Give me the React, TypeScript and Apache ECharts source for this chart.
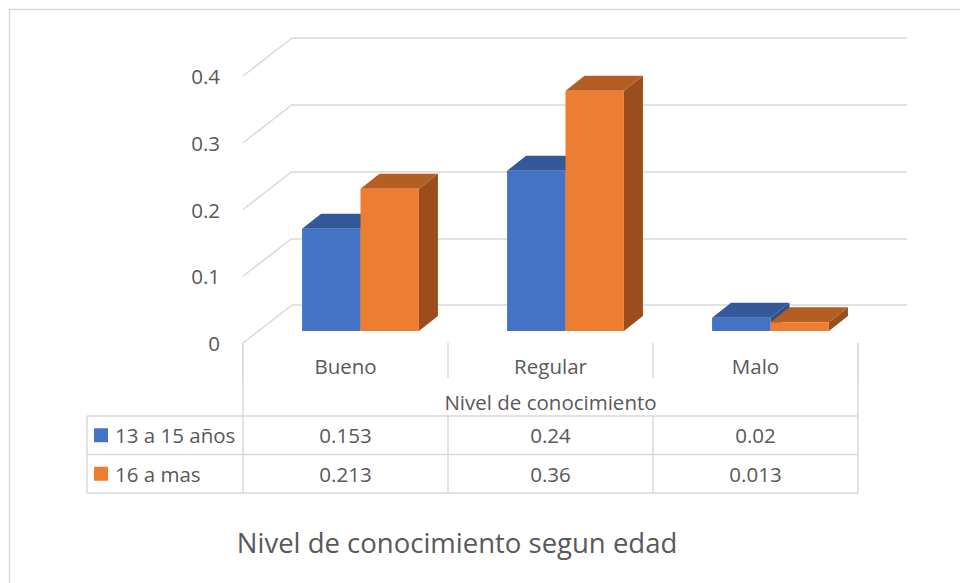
import React, { useEffect, useRef } from "react";
import * as echarts from "echarts";

const categories = ["Bueno", "Regular", "Malo"];
const seriesNames = ["13 a 15 años", "16 a mas"];
const serie1315 = [0.153, 0.24, 0.02];
const serie16 = [0.213, 0.36, 0.013];
const yTicks = [0, 0.1, 0.2, 0.3, 0.4];
const axisTitle = "Nivel de conocimiento";
const chartTitle = "Nivel de conocimiento segun edad";

const FONT = "'Open Sans', sans-serif";
const FS = 20.5;
const TXT = "#595959";
const GRIDC = "#D9D9D9";
const FRONT = ["#4472C4", "#ED7D31"];
const TOP = ["#34599B", "#B45E23"];
const SIDE = ["#2D4F8A", "#9B4E1C"];

// layout
const CAT_W = 205;
const PLOT_W = CAT_W * categories.length;
const FRONT_LEFT = 243;
const FRONT_TOP = 76;
const PLOT_H = 267;
const BACK_LEFT = 292;
const BACK_TOP = 38;
const BAR_LEFT = 258;
const BAR_TOP = 64;
const DEPTH_X = 19;
const DEPTH_Y = 15;
const WALL_DX = 49;
const WALL_DY = 38;

const TABLE_LEFT = 87;
const TABLE_TOP = 416;
const ROW_H = 38.5;

export default function App() {
  const ref = useRef<HTMLDivElement>(null);
  useEffect(() => {
    if (!ref.current) return;
    const chart = echarts.init(ref.current, undefined, { renderer: "svg" });
    const allSeries = [serie1315, serie16];

    const barSeries = allSeries.map((vals, s) => ({
      type: "custom",
      name: seriesNames[s],
      xAxisIndex: 2,
      yAxisIndex: 2,
      data: vals.map((v, i) => [i, v]),
      renderItem: (params: any, api: any) => {
        const i = api.value(0);
        const v = api.value(1);
        const c = api.coord([i, v]);
        const base = api.coord([i, 0]);
        const band = api.size([1, 0])[0];
        const bw = band * 0.285;
        const x0 = c[0] - bw + s * bw;
        const yt = c[1];
        const yb = base[1];
        return {
          type: "group",
          children: [
            {
              type: "polygon",
              shape: {
                points: [
                  [x0 + bw, yt],
                  [x0 + bw, yb],
                  [x0 + bw + DEPTH_X, yb - DEPTH_Y],
                  [x0 + bw + DEPTH_X, yt - DEPTH_Y],
                ],
              },
              style: { fill: SIDE[s] },
            },
            {
              type: "polygon",
              shape: {
                points: [
                  [x0, yt],
                  [x0 + bw, yt],
                  [x0 + bw + DEPTH_X, yt - DEPTH_Y],
                  [x0 + DEPTH_X, yt - DEPTH_Y],
                ],
              },
              style: { fill: TOP[s] },
            },
            {
              type: "rect",
              shape: { x: x0, y: yt, width: bw, height: yb - yt },
              style: { fill: FRONT[s] },
            },
          ],
        };
      },
    }));

    const graphics: any[] = [];
    graphics.push({
      type: "rect",
      shape: { x: 9.5, y: 9.5, width: 1000, height: 700 },
      style: { fill: "none", stroke: GRIDC, lineWidth: 1.5 },
      silent: true,
    });
    const tableRight = FRONT_LEFT + PLOT_W;
    const line = (x1: number, y1: number, x2: number, y2: number) => ({
      type: "line",
      shape: { x1, y1, x2, y2 },
      style: { stroke: GRIDC, lineWidth: 1.5 },
      silent: true,
    });
    for (let r = 0; r <= seriesNames.length; r++) {
      const y = TABLE_TOP + r * ROW_H;
      graphics.push(line(TABLE_LEFT, y, tableRight, y));
    }
    const tableBottom = TABLE_TOP + seriesNames.length * ROW_H;
    graphics.push(line(TABLE_LEFT, TABLE_TOP, TABLE_LEFT, tableBottom));
    graphics.push(line(FRONT_LEFT, FRONT_TOP + PLOT_H, FRONT_LEFT, tableBottom));
    graphics.push(line(tableRight, FRONT_TOP + PLOT_H, tableRight, tableBottom));
    for (let k = 1; k < categories.length; k++) {
      const x = FRONT_LEFT + k * CAT_W;
      graphics.push(line(x, TABLE_TOP, x, tableBottom));
    }
    seriesNames.forEach((name, s) => {
      const cy = TABLE_TOP + s * ROW_H + ROW_H / 2;
      graphics.push({
        type: "rect",
        shape: { x: 94, y: cy - 7, width: 14, height: 14 },
        style: { fill: FRONT[s] },
      });
      graphics.push({
        type: "text",
        x: 115,
        y: cy,
        style: {
          text: name,
          fill: TXT,
          font: `${FS}px ${FONT}`,
          textAlign: "left",
          textVerticalAlign: "middle",
        },
      });
      allSeries[s].forEach((v, i) => {
        graphics.push({
          type: "text",
          x: FRONT_LEFT + CAT_W * i + CAT_W / 2,
          y: cy,
          style: {
            text: String(v),
            fill: TXT,
            font: `${FS}px ${FONT}`,
            textAlign: "center",
            textVerticalAlign: "middle",
          },
        });
      });
    });
    graphics.push({
      type: "text",
      x: 457,
      y: 542,
      style: {
        text: chartTitle,
        fill: TXT,
        font: `27.5px ${FONT}`,
        textAlign: "center",
        textVerticalAlign: "middle",
      },
    });

    const option: any = {
      animation: false,
      backgroundColor: "#ffffff",
      textStyle: { fontFamily: FONT },
      grid: [
        { left: FRONT_LEFT, top: FRONT_TOP, width: PLOT_W, height: PLOT_H },
        { left: BACK_LEFT, top: BACK_TOP, width: PLOT_W, height: PLOT_H },
        { left: BAR_LEFT, top: BAR_TOP, width: PLOT_W, height: PLOT_H },
      ],
      xAxis: [
        {
          type: "category",
          gridIndex: 0,
          data: categories,
          axisLine: { show: false },
          axisTick: {
            show: true,
            interval: 0,
            length: 35,
            lineStyle: { color: GRIDC, width: 1.5 },
          },
          axisLabel: { fontSize: FS, color: TXT, margin: 12, fontFamily: FONT },
          name: axisTitle,
          nameLocation: "middle",
          nameGap: 48,
          nameTextStyle: { fontSize: FS, color: TXT, fontFamily: FONT },
        },
        { type: "value", gridIndex: 1, min: 0, max: categories.length, show: false },
        { type: "category", gridIndex: 2, data: categories, show: false },
      ],
      yAxis: [
        {
          type: "value",
          gridIndex: 0,
          min: 0,
          max: 0.4,
          interval: 0.1,
          axisLine: { show: false },
          axisTick: { show: false },
          splitLine: { show: false },
          axisLabel: {
            fontSize: FS,
            color: TXT,
            margin: 23,
            fontFamily: FONT,
            formatter: (v: number) => (v === 0 ? "0" : v.toFixed(1)),
          },
        },
        {
          type: "value",
          gridIndex: 1,
          min: 0,
          max: 0.4,
          interval: 0.1,
          axisLine: { show: false },
          axisTick: { show: false },
          axisLabel: { show: false },
          splitLine: { show: true, lineStyle: { color: GRIDC, width: 1.5 } },
        },
        { type: "value", gridIndex: 2, min: 0, max: 0.4, show: false },
      ],
      series: [
        {
          type: "custom",
          xAxisIndex: 1,
          yAxisIndex: 1,
          silent: true,
          data: yTicks.map((t) => [0, t]),
          renderItem: (params: any, api: any) => {
            const p = api.coord([api.value(0), api.value(1)]);
            return {
              type: "line",
              shape: { x1: p[0], y1: p[1], x2: p[0] - WALL_DX, y2: p[1] + WALL_DY },
              style: { stroke: GRIDC, lineWidth: 1.5 },
            };
          },
        },
        ...barSeries,
      ],
      graphic: graphics,
    };
    chart.setOption(option);
    return () => chart.dispose();
  }, []);

  return (
    <div
      ref={ref}
      style={{ position: "fixed", left: 0, top: 0, width: 960, height: 583, background: "#fff" }}
    />
  );
}
